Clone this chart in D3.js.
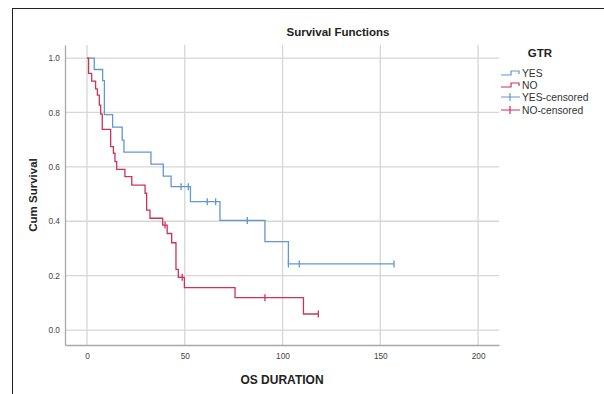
<!DOCTYPE html>
<html><head><meta charset="utf-8">
<script src="https://cdn.jsdelivr.net/npm/d3@7"></script>
<style>body{margin:0;background:#fff;} svg{display:block;font-family:"Liberation Sans",Arial,sans-serif;}</style>
</head><body>
<svg id="c" width="604" height="394"></svg>
<script>
// Data
const xTicks = [0, 50, 100, 150, 200];
const yTicks = [0.0, 0.2, 0.4, 0.6, 0.8, 1.0];
const yesTimes = [0, 3.7, 8.0, 8.9, 13.1, 18.0, 18.9, 32.7, 39.0, 43.0, 52.9, 68.0, 91.0, 103.0];
const yesSurv  = [1, 0.958, 0.917, 0.792, 0.746, 0.698, 0.654, 0.610, 0.566, 0.527, 0.472, 0.403, 0.325, 0.243];
const yesEnd = 157;
const yesCensor = [48.1, 51.8, 61.5, 65.8, 82.0, 103.0, 108.6, 157.0];
const noTimes = [0, 0.8, 2.4, 4.4, 5.3, 6.3, 7.0, 7.8, 12.1, 13.5, 14.3, 15.2, 19.4, 22.9, 29.7, 30.5, 32.2, 38.7, 41.0, 43.3, 45.5, 46.7, 49.8, 75.7, 110.7];
const noSurv  = [1, 0.944, 0.915, 0.887, 0.864, 0.827, 0.794, 0.738, 0.674, 0.650, 0.619, 0.591, 0.564, 0.533, 0.503, 0.441, 0.411, 0.386, 0.355, 0.321, 0.223, 0.194, 0.156, 0.119, 0.059];
const noEnd = 118.3;
const noCensor = [39.9, 48.7, 91.0, 118.3];
const legendLabels = ["YES", "NO", "YES-censored", "NO-censored"];

const blue = "#6297cf", red = "#cc3358";
const svg = d3.select("#c");
// outer frame
svg.append("rect").attr("x", 12.5).attr("y", 8.5).attr("width", 620).attr("height", 420)
  .attr("fill", "none").attr("stroke", "#222").attr("stroke-width", 1);

const L = 65, R = 499, T = 45, B = 345;
const x = d3.scaleLinear().domain([-11.25, 210.7]).range([L, R]);
const y = d3.scaleLinear().domain([-0.055, 1.048]).range([B, T]);

// gridlines
const g = svg.append("g");
g.selectAll(".vg").data(xTicks).join("line")
  .attr("x1", d => x(d)).attr("x2", d => x(d)).attr("y1", T).attr("y2", B)
  .attr("stroke", "#d6d6d6").attr("stroke-width", 1.3);
g.selectAll(".hg").data(yTicks).join("line")
  .attr("x1", L).attr("x2", R).attr("y1", d => y(d)).attr("y2", d => y(d))
  .attr("stroke", "#d6d6d6").attr("stroke-width", 1.3);

// axes
const xAxis = svg.append("g").attr("transform", `translate(0,${B})`)
  .call(d3.axisBottom(x).tickValues(xTicks).tickSize(0).tickPadding(8).tickFormat(d3.format("d")));
const yAxis = svg.append("g").attr("transform", `translate(${L},0)`)
  .call(d3.axisLeft(y).tickValues(yTicks).tickSize(0).tickPadding(5).tickFormat(d3.format(".1f")));
[xAxis, yAxis].forEach(a => {
  a.select(".domain").attr("stroke", "#a8a8a8").attr("stroke-width", 1.3);
  a.selectAll("text").attr("font-size", 8.3).attr("fill", "#444").attr("font-family", "Liberation Sans, Arial, sans-serif");
});

const line = d3.line().x(d => x(d[0])).y(d => y(d[1])).curve(d3.curveStepAfter);
function survAt(times, surv, t) {
  let s = surv[0];
  for (let i = 0; i < times.length; i++) if (times[i] <= t) s = surv[i];
  return s;
}
function drawSeries(times, surv, end, cens, color) {
  const pts = times.map((t, i) => [t, surv[i]]);
  pts.push([end, surv[surv.length - 1]]);
  svg.append("path").attr("d", line(pts)).attr("fill", "none")
    .attr("stroke", color).attr("stroke-width", 1.3);
  svg.append("g").selectAll("line").data(cens).join("line")
    .attr("x1", d => x(d)).attr("x2", d => x(d))
    .attr("y1", d => y(survAt(times, surv, d)) - 3.5)
    .attr("y2", d => y(survAt(times, surv, d)) + 3.5)
    .attr("stroke", color).attr("stroke-width", 1.3);
}
drawSeries(yesTimes, yesSurv, yesEnd, yesCensor, blue);
drawSeries(noTimes, noSurv, noEnd, noCensor, red);

// title and labels
svg.append("text").attr("x", 338).attr("y", 36).attr("text-anchor", "middle")
  .attr("font-size", 11.5).attr("font-weight", "bold").attr("fill", "#222").text("Survival Functions");
svg.append("text").attr("x", (L + R) / 2).attr("y", 384).attr("text-anchor", "middle")
  .attr("font-size", 12).attr("font-weight", "bold").attr("fill", "#222").text("OS DURATION");
svg.append("text").attr("transform", `translate(37,${(T + B) / 2}) rotate(-90)`).attr("text-anchor", "middle")
  .attr("font-size", 11.5).attr("font-weight", "bold").attr("fill", "#222").text("Cum Survival");

// legend
const lg = svg.append("g");
lg.append("text").attr("x", 540).attr("y", 57).attr("text-anchor", "middle")
  .attr("font-size", 11.5).attr("font-weight", "bold").attr("fill", "#222").text("GTR");
const ly = [73, 85, 97, 110];
const lcol = [blue, red, blue, red];
legendLabels.forEach((lab, i) => {
  const yy = ly[i];
  if (i < 2) {
    lg.append("path").attr("d", `M501,${yy + 2}H511V${yy - 2}H519V${yy + 1}`)
      .attr("fill", "none").attr("stroke", lcol[i]).attr("stroke-width", 1.2);
  } else {
    lg.append("path").attr("d", `M501,${yy}H520M510,${yy - 4}V${yy + 4}`)
      .attr("fill", "none").attr("stroke", lcol[i]).attr("stroke-width", 1.2);
  }
  lg.append("text").attr("x", 522).attr("y", yy + 3.7).attr("font-size", 10.3).attr("fill", "#333").text(lab);
});
</script>
</body></html>
